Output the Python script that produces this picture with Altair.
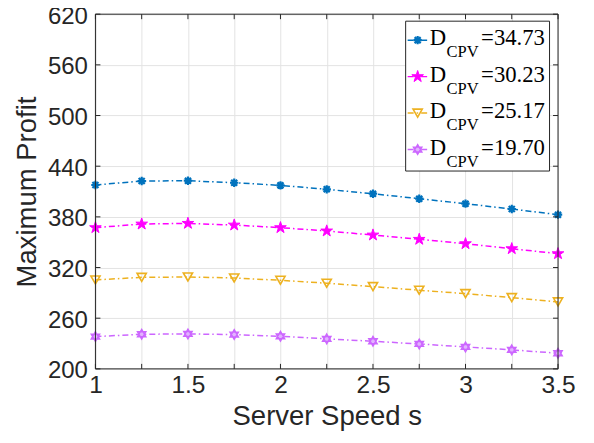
import altair as alt
import pandas as pd

speeds = [1.0, 1.25, 1.5, 1.75, 2.0, 2.25, 2.5, 2.75, 3.0, 3.25, 3.5]
profit_3473 = [417.7, 422.4, 422.8, 420.4, 417.3, 412.6, 407.4, 401.5, 395.6, 389.3, 382.6]
profit_3023 = [367.2, 371.5, 372.3, 370.3, 367.2, 363.3, 358.5, 353.4, 348.2, 342.3, 336.4]
profit_2517 = [305.3, 308.4, 308.8, 307.6, 304.9, 301.4, 297.4, 293.1, 289.1, 284.4, 279.3]
profit_1970 = [238.2, 241.0, 241.4, 240.6, 238.6, 235.5, 232.7, 229.5, 226.0, 222.5, 218.5]

labels = ["34.73", "30.23", "25.17", "19.70"]
colors = ["#0072BD", "#FF00FF", "#EDB120", "#CC66FF"]
x_ticks = [1.0, 1.25, 1.5, 1.75, 2.0, 2.25, 2.5, 2.75, 3.0, 3.25, 3.5]
y_ticks = [200, 260, 320, 380, 440, 500, 560, 620]

W, H = 463, 355
AX = "#262626"
GRID = "#e3e3e3"
DASH = [6, 3, 1.5, 3]

asterisk = "M-1,0L1,0M0,-1L0,1M-0.72,-0.72L0.72,0.72M-0.72,0.72L0.72,-0.72"
hexagram = "M0,-1L0.866,0.5L-0.866,0.5Z M0,1L-0.866,-0.5L0.866,-0.5Z"
pentagram = ("M0,-1L0.2245,-0.309L0.9511,-0.309L0.3633,0.118L0.5878,0.809L0,0.382"
             "L-0.5878,0.809L-0.3633,0.118L-0.9511,-0.309L-0.2245,-0.309Z")

marker_styles = [
    dict(shape=asterisk, filled=False, stroke=colors[0], strokeWidth=2.2, size=70),
    dict(shape=pentagram, filled=True, fill=colors[1], stroke=colors[1], strokeWidth=1, size=150),
    dict(shape="triangle-down", filled=False, stroke=colors[2], strokeWidth=1.6, size=85),
    dict(shape=hexagram, filled=True, fill="#e2b3ff", stroke=colors[3], strokeWidth=1.4, size=95),
]

series = [profit_3473, profit_3023, profit_2517, profit_1970]
rows = []
for lab, vals in zip(labels, series):
    for s, v in zip(speeds, vals):
        rows.append({"speed": s, "profit": v, "series": lab})
df = pd.DataFrame(rows)

xscale = alt.Scale(domain=[1, 3.5], nice=False, zero=False)
yscale = alt.Scale(domain=[200, 620], nice=False, zero=False)

xaxis = alt.Axis(values=x_ticks, grid=True, gridColor=GRID, ticks=False, domain=False,
                 labelExpr="(datum.value*2) % 1 == 0 ? '' + datum.value : ''",
                 labelOverlap=False, labelFlush=False, labelFontSize=24.5,
                 labelFont="Liberation Sans", labelColor=AX, labelPadding=5,
                 title="Server Speed s", titleFontSize=27.5, titleFont="Liberation Sans",
                 titleFontWeight="normal", titleColor=AX, titlePadding=5)
yaxis = alt.Axis(values=y_ticks, grid=True, gridColor=GRID, ticks=False, domain=False,
                 labelFlush=False, labelOverlap=False, labelOffset=2,
                 labelFontSize=24, labelFont="Liberation Sans", labelColor=AX,
                 labelPadding=8, title="Maximum Profit", titleFontSize=27.5,
                 titleFont="Liberation Sans", titleFontWeight="normal", titleColor=AX,
                 titlePadding=6)


def X(f):
    return alt.X(f, scale=xscale, axis=xaxis)


def Y(f):
    return alt.Y(f, scale=yscale, axis=yaxis)


layers = []
for i, lab in enumerate(labels):
    sub = df[df.series == lab].reset_index(drop=True)
    base = alt.Chart(sub)
    layers.append(base.mark_line(color=colors[i], strokeWidth=1.5, strokeDash=DASH)
                  .encode(x=X("speed:Q"), y=Y("profit:Q")))
    layers.append(base.mark_point(**marker_styles[i], opacity=1)
                  .encode(x=X("speed:Q"), y=Y("profit:Q")))

# inward tick marks
xt = pd.DataFrame({"speed": x_ticks})
yt = pd.DataFrame({"profit": y_ticks})
layers.append(alt.Chart(xt).mark_rule(color=AX, strokeWidth=1).encode(
    x=X("speed:Q"), y=alt.value(H), y2=alt.value(H - 5)))
layers.append(alt.Chart(xt).mark_rule(color=AX, strokeWidth=1).encode(
    x=X("speed:Q"), y=alt.value(0), y2=alt.value(5)))
layers.append(alt.Chart(yt).mark_rule(color=AX, strokeWidth=1).encode(
    y=Y("profit:Q"), x=alt.value(0), x2=alt.value(5)))
layers.append(alt.Chart(yt).mark_rule(color=AX, strokeWidth=1).encode(
    y=Y("profit:Q"), x=alt.value(W), x2=alt.value(W - 5)))

one = pd.DataFrame({"a": [0]})
# plot frame
layers.append(alt.Chart(one).mark_rect(fill=None, filled=False, stroke=AX, strokeWidth=1).encode(
    x=alt.value(0), x2=alt.value(W), y=alt.value(0), y2=alt.value(H)))

# legend
lx0, lx1, ly0, ly1 = 310.5, 454.5, 7, 157
layers.append(alt.Chart(one).mark_rect(fill="white", stroke=AX, strokeWidth=1).encode(
    x=alt.value(lx0), x2=alt.value(lx1), y=alt.value(ly0), y2=alt.value(ly1)))
for i, lab in enumerate(labels):
    yl = 26 + 36.5 * i
    yb = yl + 5
    layers.append(alt.Chart(one).mark_rule(color=colors[i], strokeWidth=1.5, strokeDash=DASH).encode(
        x=alt.value(312.5), x2=alt.value(332.5), y=alt.value(yl)))
    layers.append(alt.Chart(one).mark_point(**marker_styles[i], opacity=1).encode(
        x=alt.value(322.5), y=alt.value(yl)))
    layers.append(alt.Chart(one).mark_text(text="D", font="Liberation Serif", fontSize=22.7,
                                           color="black", align="left", baseline="alphabetic").encode(
        x=alt.value(334.5), y=alt.value(yb)))
    layers.append(alt.Chart(one).mark_text(text="CPV", font="Liberation Serif", fontSize=16.5,
                                           color="black", align="left", baseline="alphabetic").encode(
        x=alt.value(351.5), y=alt.value(yb + 12)))
    layers.append(alt.Chart(one).mark_text(text="=" + lab, font="Liberation Serif", fontSize=22.7,
                                           color="black", align="left", baseline="alphabetic").encode(
        x=alt.value(386), y=alt.value(yb)))

chart = alt.layer(*layers).properties(
    width=W, height=H,
    autosize=alt.AutoSizeParams(type="none"),
    padding={"left": 87.5, "top": 6, "right": 28, "bottom": 66},
).configure_view(stroke=None).configure(background="white")

chart.save("out.html", embed_options={"renderer": "svg", "actions": False})
